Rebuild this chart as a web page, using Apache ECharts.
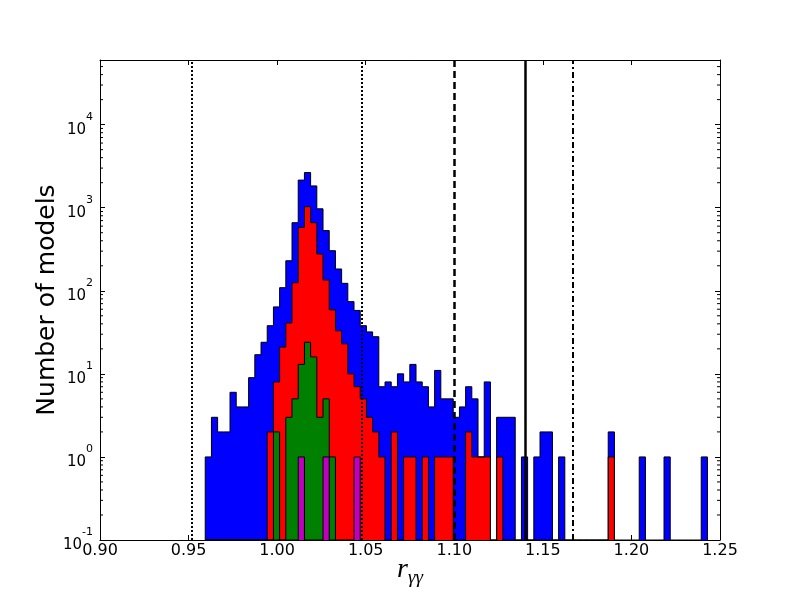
<!DOCTYPE html>
<html>
<head>
<meta charset="utf-8">
<script src="https://cdn.jsdelivr.net/npm/echarts@6/dist/echarts.min.js"></script>
<style>
html, body { margin: 0; padding: 0; background: #fff; }
#container { width: 800px; height: 600px; }
</style>
</head>
<body>
<div id="container"></div>
<script>
var dom = document.getElementById('container');
var myChart = echarts.init(dom, null, {
    renderer: 'canvas',
    useDirtyRect: false
});

// histogram bins (left edge of first bin, bin width)
const binStart = 0.9594;
const binWidth = 0.0035;

// counts per bin
const blueCounts = [
    1, 3, 2, 2, 6, 4, 4, 9, 17, 24,
    38, 64, 109, 230, 660, 2150, 2650, 1830, 970, 530,
    304, 183, 123, 74, 58, 38, 32, 28, 7, 8,
    7, 10, 8, 13, 8, 7, 4, 11, 5, 5,
    3, 4, 7, 5, 1, 8, 0, 3, 3, 3,
    0, 1, 0, 1, 2, 2, 0, 1, 0, 0,
    0, 0, 0, 0, 0, 2, 0, 0, 0, 0,
    1, 0, 0, 0, 1, 0, 0, 0, 0, 0,
    1
];
const redCounts = [
    0, 0, 0, 0, 0, 0, 0, 0, 0, 0,
    2, 8, 21, 41, 125, 580, 1030, 660, 277, 135,
    59, 33, 23, 10, 7, 5, 3, 2, 1, 0,
    2, 0, 1, 1, 0, 1, 0, 1, 1, 1,
    0, 0, 2, 1, 1, 1, 0, 1, 0, 0,
    0, 0, 0, 0, 0, 0, 0, 0, 0, 0,
    0, 0, 0, 0, 0, 1
];
const greenCounts = [
    0, 0, 0, 0, 0, 0, 0, 0, 0, 0,
    0, 2, 0, 3, 5, 13, 24, 16, 3, 5,
    1
];
const magentaCounts = [
    0, 0, 0, 0, 0, 0, 0, 0, 0, 0,
    0, 0, 0, 0, 0, 1, 0, 0, 0, 1,
    0, 0, 0, 0, 1
];

// vertical reference lines
const lineX = [0.952, 1.048, 1.10, 1.14, 1.167];
const lineDash = [[2, 2], [2, 2], [7, 4], 'solid', [6, 3, 2, 3]];
const lineWidth = [2, 2, 2.5, 2.5, 2];

const xTicks = [0.90, 0.95, 1.00, 1.05, 1.10, 1.15, 1.20, 1.25];
const yMin = 0.1;
const yMax = 60000;

// minor log ticks 2..9 in every decade
let minorTicks = [];
for (let k = -1; k <= 4; k++) {
    for (let m = 2; m <= 9; m++) {
        let v = m * Math.pow(10, k);
        if (v < yMax) minorTicks.push(v);
    }
}

// build the step outline of one histogram (zero bins sit on the axis floor)
function stepData(counts) {
    let pts = [[binStart, yMin]];
    for (let i = 0; i < counts.length; i++) {
        pts.push([binStart + i * binWidth, Math.max(counts[i], yMin)]);
    }
    let end = binStart + counts.length * binWidth;
    pts.push([end, Math.max(counts[counts.length - 1], yMin)]);
    pts.push([end, yMin]);
    return pts;
}

function histSeries(name, counts, color) {
    return {
        name: name,
        type: 'line',
        step: 'end',
        data: stepData(counts),
        symbol: 'none',
        showSymbol: false,
        silent: true,
        lineStyle: { color: '#000', width: 1 },
        areaStyle: { color: color, opacity: 1, origin: 'start' }
    };
}

function logLabel(v) {
    let e = Math.round(Math.log10(v));
    if (Math.abs(v - Math.pow(10, e)) > Math.pow(10, e) * 1e-6) return '';
    return '{b|10}{e|' + e + '}';
}

const tickStyle = { inside: true, length: 5, lineStyle: { color: '#000', width: 1 } };
const lineAxis = { show: true, onZero: false, lineStyle: { color: '#000', width: 1 } };
const minorLen = 3;

var option = {
    animation: false,
    backgroundColor: '#fff',
    grid: { left: 100, top: 60, width: 620, height: 480, containLabel: false, outerBoundsMode: 'none' },
    xAxis: [
        {
            type: 'value',
            min: xTicks[0],
            max: xTicks[xTicks.length - 1],
            interval: 0.05,
            axisLine: lineAxis,
            axisTick: tickStyle,
            splitLine: { show: false },
            axisLabel: {
                color: '#000',
                fontSize: 16,
                fontFamily: 'DejaVu Sans',
                margin: 3,
                formatter: (v) => v.toFixed(2)
            },
            name: '{r|r}{s|\u03b3\u03b3}',
            nameLocation: 'middle',
            nameGap: 16,
            nameMoveOverlap: false,
            nameTextStyle: {
                rich: {
                    r: { fontFamily: 'Liberation Serif', fontStyle: 'italic', fontSize: 28, color: '#000', lineHeight: 26, verticalAlign: 'top' },
                    s: { fontFamily: 'Liberation Serif', fontStyle: 'italic', fontSize: 19, color: '#000', lineHeight: 31, verticalAlign: 'bottom' }
                }
            }
        },
        {
            type: 'value',
            position: 'top',
            min: xTicks[0],
            max: xTicks[xTicks.length - 1],
            interval: 0.05,
            axisLine: lineAxis,
            axisTick: tickStyle,
            axisLabel: { show: false },
            splitLine: { show: false }
        }
    ],
    yAxis: [
        {
            type: 'log',
            logBase: 10,
            min: yMin,
            max: yMax,
            axisLine: lineAxis,
            axisTick: tickStyle,
            splitLine: { show: false },
            axisLabel: {
                color: '#000',
                margin: 7,
                showMaxLabel: false,
                formatter: logLabel,
                rich: {
                    b: { fontFamily: 'DejaVu Sans', fontSize: 15, color: '#000', lineHeight: 26, verticalAlign: 'bottom' },
                    e: { fontFamily: 'DejaVu Sans', fontSize: 11, color: '#000', lineHeight: 12, verticalAlign: 'top' }
                }
            },
            name: 'Number of models',
            nameLocation: 'middle',
            nameGap: 40,
            nameMoveOverlap: false,
            nameTextStyle: { fontFamily: 'DejaVu Sans', fontSize: 25, color: '#000' }
        },
        {
            type: 'log',
            logBase: 10,
            position: 'right',
            min: yMin,
            max: yMax,
            axisLine: lineAxis,
            axisTick: tickStyle,
            axisLabel: { show: false },
            splitLine: { show: false }
        }
    ],
    series: [
        histSeries('blue', blueCounts, '#0000ff'),
        histSeries('red', redCounts, '#ff0000'),
        histSeries('green', greenCounts, '#008000'),
        Object.assign(histSeries('magenta', magentaCounts, '#bf00bf'), {
            markLine: {
                symbol: 'none',
                silent: true,
                precision: 4,
                label: { show: false },
                data: lineX.map((x, i) => ({
                    xAxis: x,
                    lineStyle: { color: '#000', width: lineWidth[i], type: lineDash[i] }
                }))
            }
        }),
        {
            // minor ticks of the log axis, on both spines
            type: 'custom',
            coordinateSystem: 'cartesian2d',
            silent: true,
            clip: false,
            z: 5,
            data: minorTicks.map((v) => [xTicks[xTicks.length - 1], v]),
            encode: { x: 0, y: 1 },
            renderItem: (params, api) => {
                const v = api.value(1);
                const p = api.coord([xTicks[xTicks.length - 1], v]);
                const left = params.coordSys.x;
                const right = params.coordSys.x + params.coordSys.width;
                const st = { stroke: '#000', lineWidth: 1 };
                return {
                    type: 'group',
                    children: [
                        { type: 'line', shape: { x1: left, y1: p[1], x2: left + minorLen, y2: p[1] }, style: st },
                        { type: 'line', shape: { x1: right - minorLen, y1: p[1], x2: right, y2: p[1] }, style: st }
                    ]
                };
            }
        }
    ]
};

myChart.setOption(option);
window.addEventListener('resize', myChart.resize);
</script>
</body>
</html>
